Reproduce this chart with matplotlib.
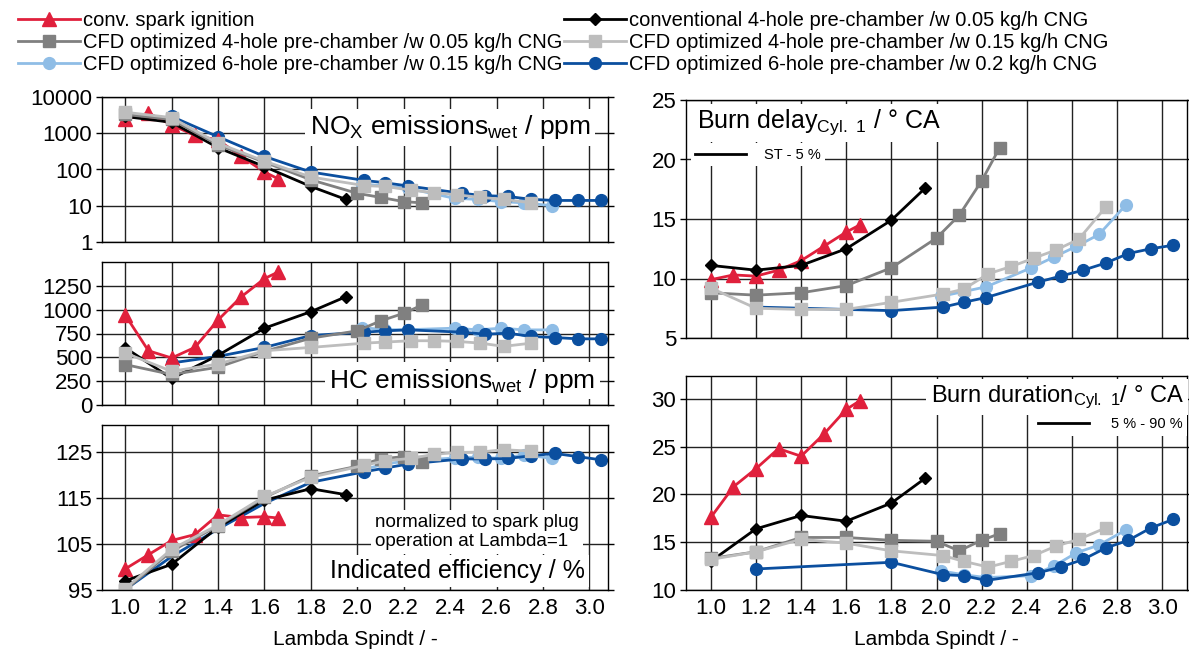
import matplotlib
matplotlib.use("Agg")
import matplotlib.pyplot as plt
from matplotlib.lines import Line2D

plt.rcParams['font.family'] = ['Liberation Sans', 'DejaVu Sans']
plt.rcParams['mathtext.default'] = 'regular'

# lambda values of each series
lam_si = [1.0, 1.1, 1.2, 1.3, 1.4, 1.5, 1.6, 1.66]
lam_conv = [1.0, 1.2, 1.4, 1.6, 1.8, 1.95]
lam_cfd4a = [1.0, 1.2, 1.4, 1.6, 1.8, 2.0, 2.1, 2.2, 2.28]
lam_cfd4b = [1.0, 1.2, 1.4, 1.6, 1.8, 2.03, 2.12, 2.23, 2.33, 2.43, 2.53, 2.63, 2.75]
lam_cfd6a = [2.02, 2.12, 2.22, 2.42, 2.52, 2.62, 2.72, 2.84]
lam_cfd6b = [1.2, 1.4, 1.6, 1.8, 2.03, 2.12, 2.22, 2.45, 2.55, 2.65, 2.75, 2.85, 2.95, 3.05]
lam_cfd6b_eff = [1.0, 1.2, 1.4, 1.6, 1.8, 2.03, 2.12, 2.22, 2.45, 2.55, 2.65, 2.75, 2.85, 2.95, 3.05]
lam_cfd6b_burn = [1.2, 1.8, 2.03, 2.12, 2.22, 2.45, 2.55, 2.65, 2.75, 2.85, 2.95, 3.05]

# NOx emissions wet / ppm
nox_si = [2400, 3600, 1700, 870, 650, 230, 85, 55]
nox_conv = [2900, 2000, 400, 120, 34, 15]
nox_cfd4a = [3300, 2400, 480, 160, 52, 22, 17, 13, 12]
nox_cfd4b = [3800, 2700, 530, 170, 62, 36, 34, 27, 23, 20, 17, 15, 12]
nox_cfd6a = [40, 35, 30, 16, 15, 13, 12, 10]
nox_cfd6b = [2900, 800, 230, 85, 50, 43, 35, 22, 19, 18, 15, 14, 14, 14]

# HC emissions wet / ppm
hc_si = [944, 569, 493, 604, 892, 1135, 1326, 1396]
hc_conv = [600, 278, 521, 806, 979, 1135]
hc_cfd4a = [424, 320, 396, 562, 701, 778, 882, 962, 1049]
hc_cfd4b = [545, 354, 430, 569, 604, 649, 660, 674, 674, 667, 649, 615, 649]
hc_cfd6a = [812, 790, 790, 806, 788, 806, 788, 788]
hc_cfd6b = [441, 510, 604, 729, 764, 778, 788, 764, 743, 753, 719, 708, 694, 694]

# indicated efficiency / %
eff_si = [99.6, 102.7, 105.8, 107.1, 111.4, 110.8, 111.0, 110.7]
eff_conv = [97.0, 100.6, 108.7, 114.6, 117.1, 115.8]
eff_cfd4a = [95.0, 103.5, 109.0, 115.2, 119.9, 122.0, 123.6, 124.1, 123.0]
eff_cfd4b = [95.3, 103.9, 109.2, 115.4, 119.6, 122.2, 123.2, 123.7, 124.6, 125.0, 125.1, 125.6, 125.3]
eff_cfd6a = [121.2, 122.5, 123.2, 123.8, 124.0, 123.7, 124.5, 123.7]
eff_cfd6b = [95.1, 102.3, 108.3, 113.9, 118.5, 120.8, 121.6, 122.5, 123.6, 123.6, 123.7, 124.3, 124.8, 124.1, 123.4]

# burn delay / deg CA
bd_si = [9.9, 10.3, 10.2, 10.7, 11.5, 12.7, 13.9, 14.5]
bd_conv = [11.1, 10.7, 11.1, 12.5, 14.9, 17.6]
bd_cfd4a = [8.8, 8.6, 8.8, 9.4, 10.9, 13.4, 15.3, 18.2, 21.0]
bd_cfd4b = [9.2, 7.5, 7.4, 7.4, 8.0, 8.7, 9.1, 10.4, 11.0, 11.7, 12.4, 13.3, 16.0]
bd_cfd6a = [8.5, 8.9, 9.3, 10.9, 11.8, 12.7, 13.7, 16.2]
bd_cfd6b = [7.6, 7.3, 7.6, 8.0, 8.4, 9.7, 10.2, 10.7, 11.3, 12.1, 12.5, 12.8]

# burn duration / deg CA
bdur_si = [17.6, 20.8, 22.7, 24.8, 24.0, 26.3, 28.9, 29.8]
bdur_conv = [13.0, 16.4, 17.8, 17.2, 19.1, 21.7]
bdur_cfd4a = [13.3, 14.0, 15.5, 15.5, 15.2, 15.1, 14.1, 15.2, 15.9]
bdur_cfd4b = [13.2, 14.0, 15.3, 14.9, 14.1, 13.6, 13.0, 12.4, 13.0, 13.6, 14.6, 15.3, 16.5]
bdur_cfd6a = [12.0, 11.6, 11.3, 11.5, 12.5, 13.9, 14.7, 16.3]
bdur_cfd6b = [12.2, 12.9, 11.6, 11.5, 11.0, 11.8, 12.4, 13.2, 14.4, 15.2, 16.5, 17.4]

labels = ['conv. spark ignition',
          'conventional 4-hole pre-chamber /w 0.05 kg/h CNG',
          'CFD optimized 4-hole pre-chamber /w 0.05 kg/h CNG',
          'CFD optimized 4-hole pre-chamber /w 0.15 kg/h CNG',
          'CFD optimized 6-hole pre-chamber /w 0.15 kg/h CNG',
          'CFD optimized 6-hole pre-chamber /w 0.2 kg/h CNG']

red = '#e0203c'
dgray = '#808080'
lgray = '#bdbdbd'
lblue = '#8fbde6'
dblue = '#0b4f9f'

sty_si = dict(color=red, marker='^', ms=10, lw=2)
sty_conv = dict(color='black', marker='D', ms=6.5, lw=2)
sty_cfd4a = dict(color=dgray, marker='s', ms=8.5, lw=2)
sty_cfd4b = dict(color=lgray, marker='s', ms=8.5, lw=2)
sty_cfd6a = dict(color=lblue, marker='o', ms=8.5, lw=2)
sty_cfd6b = dict(color=dblue, marker='o', ms=8.5, lw=2)

fig = plt.figure(figsize=(11.89, 6.54), dpi=100)

W, H = 1189, 654
def box(x0, x1, y0, y1):
    return [x0 / W, 1 - y1 / H, (x1 - x0) / W, (y1 - y0) / H]

ax_nox = fig.add_axes(box(102, 608, 97, 242))
ax_hc = fig.add_axes(box(102, 608, 262, 405))
ax_eff = fig.add_axes(box(102, 608, 425, 590))
ax_bd = fig.add_axes(box(686, 1187, 100, 338))
ax_bdur = fig.add_axes(box(686, 1187, 376, 590))


def draw(ax, si, conv, c4a, c4b, c6a, c6b, lam6b, mark6b='all'):
    ax.plot(lam_cfd6a, c6a, **sty_cfd6a)
    if mark6b == 'all':
        ax.plot(lam6b, c6b, **sty_cfd6b)
    else:
        ax.plot(lam6b, c6b, markevery=mark6b, **sty_cfd6b)
    ax.plot(lam_si, si, **sty_si)
    ax.plot(lam_conv, conv, **sty_conv)
    ax.plot(lam_cfd4a, c4a, **sty_cfd4a)
    ax.plot(lam_cfd4b, c4b, **sty_cfd4b)


draw(ax_nox, nox_si, nox_conv, nox_cfd4a, nox_cfd4b, nox_cfd6a, nox_cfd6b, lam_cfd6b)
draw(ax_hc, hc_si, hc_conv, hc_cfd4a, hc_cfd4b, hc_cfd6a, hc_cfd6b, lam_cfd6b)
draw(ax_eff, eff_si, eff_conv, eff_cfd4a, eff_cfd4b, eff_cfd6a, eff_cfd6b, lam_cfd6b_eff,
     mark6b=slice(5, None))
draw(ax_bd, bd_si, bd_conv, bd_cfd4a, bd_cfd4b, bd_cfd6a, bd_cfd6b, lam_cfd6b_burn)
draw(ax_bdur, bdur_si, bdur_conv, bdur_cfd4a, bdur_cfd4b, bdur_cfd6a, bdur_cfd6b, lam_cfd6b_burn)

xt = [1.0, 1.2, 1.4, 1.6, 1.8, 2.0, 2.2, 2.4, 2.6, 2.8, 3.0]
for ax in [ax_nox, ax_hc, ax_eff, ax_bd, ax_bdur]:
    ax.set_xticks(xt)
    ax.set_axisbelow(True)
    ax.grid(True, color='#222222', lw=1.0)
    ax.tick_params(axis='y', which='both', direction='out', length=4, width=1,
                   labelsize=16, left=True, right=True, pad=3)
    ax.tick_params(axis='x', length=0, labelsize=16, pad=6)
    for s in ax.spines.values():
        s.set_linewidth(1.0)
    ax.minorticks_off()

for ax in [ax_nox, ax_hc, ax_eff]:
    ax.set_xlim(0.9, 3.08)
for ax in [ax_bd, ax_bdur]:
    ax.set_xlim(0.89, 3.11)
for ax in [ax_nox, ax_hc, ax_bd]:
    ax.tick_params(axis='x', labelbottom=False)

ax_nox.set_yscale('log')
ax_nox.set_ylim(1, 10000)
ax_nox.set_yticks([1, 10, 100, 1000, 10000])
ax_nox.set_yticklabels(['1', '10', '100', '1000', '10000'])
ax_nox.minorticks_off()

ax_hc.set_ylim(0, 1500)
ax_hc.set_yticks([0, 250, 500, 750, 1000, 1250])

ax_eff.set_ylim(95, 131)
ax_eff.set_yticks([95, 105, 115, 125])

ax_bd.set_ylim(5, 25)
ax_bd.set_yticks([5, 10, 15, 20, 25])

ax_bdur.set_ylim(10, 32.4)
ax_bdur.set_yticks([10, 15, 20, 25, 30])

ax_eff.set_xlabel('Lambda Spindt / -', fontsize=15, labelpad=8)
ax_bdur.set_xlabel('Lambda Spindt / -', fontsize=15, labelpad=8)

wbox = dict(fc='white', ec='none', pad=3)
ax_nox.text(0.965, 0.79, 'NO$_{X}$ emissions$_{wet}$ / ppm', transform=ax_nox.transAxes,
            ha='right', va='center', fontsize=19, bbox=wbox)
ax_hc.text(0.975, 0.17, 'HC emissions$_{wet}$ / ppm', transform=ax_hc.transAxes,
           ha='right', va='center', fontsize=19, bbox=wbox)
ax_eff.text(0.539, 0.35, 'normalized to spark plug\noperation at Lambda=1',
            transform=ax_eff.transAxes, ha='left', va='center', fontsize=13.5,
            linespacing=1.15, bbox=wbox)
ax_eff.text(0.955, 0.115, 'Indicated efficiency / %', transform=ax_eff.transAxes,
            ha='right', va='center', fontsize=18, bbox=wbox)
ax_bd.text(0.022, 0.905, 'Burn delay$_{Cyl.\\ 1}$ / ° CA', transform=ax_bd.transAxes,
           ha='left', va='center', fontsize=18, bbox=wbox)
ax_bdur.text(0.993, 0.9, 'Burn duration$_{Cyl.\\ 1}$/ ° CA', transform=ax_bdur.transAxes,
             ha='right', va='center', fontsize=17, bbox=wbox)

bd_leg = ax_bd.legend([Line2D([], [], color='black', lw=2)], ['ST - 5 %'],
                      loc='center left', bbox_to_anchor=(0.01, 0.77), fontsize=10.5,
                      frameon=True, facecolor='white', edgecolor='none', framealpha=1,
                      fancybox=False, handlelength=3.5, handletextpad=1.2,
                      borderpad=0.3, borderaxespad=0)
bdur_leg = ax_bdur.legend([Line2D([], [], color='black', lw=2)], ['5 % - 90 %'],
                          loc='center right', bbox_to_anchor=(1.0, 0.775), fontsize=10.5,
                          frameon=True, facecolor='white', edgecolor='none', framealpha=1,
                          fancybox=False, handlelength=3.5, handletextpad=1.5,
                          borderpad=0.3, borderaxespad=0)

handles = [Line2D([], [], **sty_si), Line2D([], [], **sty_conv),
           Line2D([], [], **sty_cfd4a), Line2D([], [], **sty_cfd4b),
           Line2D([], [], **sty_cfd6a), Line2D([], [], **sty_cfd6b)]
order = [0, 2, 4, 1, 3, 5]
fig.legend([handles[i] for i in order], [labels[i] for i in order], ncol=2,
           loc='upper left', bbox_to_anchor=(18 / W, 1 - 11 / H), frameon=False,
           fontsize=14.5, handlelength=3.1, handletextpad=0.15, columnspacing=0.05,
           labelspacing=0.16, borderaxespad=0, borderpad=0)

fig.savefig('out.png', dpi=100)
